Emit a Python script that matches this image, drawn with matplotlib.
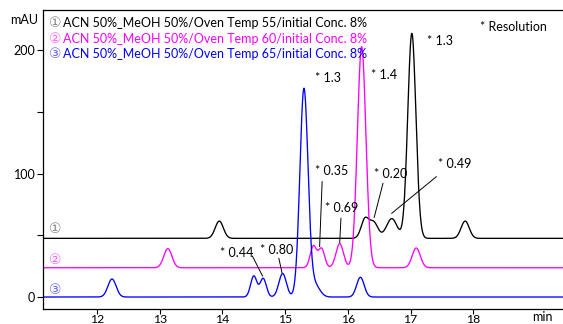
import numpy as np
import matplotlib
matplotlib.use("Agg")
import matplotlib.pyplot as plt

plt.rcParams['font.family'] = ['Lato', 'DejaVu Sans']

# ---- data (peak tables) ----
black_offset = 47.5
black_rt = [13.95, 16.27, 16.41, 16.70, 17.02, 17.87]
black_h = [14, 15, 13, 16, 166, 14]
black_sd = [0.065, 0.06, 0.07, 0.085, 0.065, 0.065]

mag_offset = 23.7
mag_rt = [13.13, 15.45, 15.58, 15.87, 16.22, 17.09]
mag_h = [15.5, 17.5, 15.5, 19.5, 179, 16]
mag_sd = [0.065, 0.05, 0.05, 0.06, 0.068, 0.065]

blue_offset = 0.0
blue_rt = [12.24, 14.50, 14.65, 14.96, 15.30, 15.47, 16.20]
blue_h = [14.6, 17, 15, 19, 168, 10, 16]
blue_sd = [0.065, 0.05, 0.05, 0.06, 0.065, 0.08, 0.06]

legend_labels = ["ACN 50%_MeOH 50%/Oven Temp 55/initial Conc. 8%",
                 "ACN 50%_MeOH 50%/Oven Temp 60/initial Conc. 8%",
                 "ACN 50%_MeOH 50%/Oven Temp 65/initial Conc. 8%"]
circ = ["\u2460", "\u2461", "\u2462"]

x_ticks = [12, 13, 14, 15, 16, 17, 18]
y_ticks = [0, 100, 200]
y_minor = [50, 150]

t = np.linspace(11.1, 19.5, 3000)


def trace(offset, rts, hs, sds):
    y = np.full_like(t, offset)
    for r, h, s in zip(rts, hs, sds):
        y += h * np.exp(-0.5 * ((t - r) / s) ** 2)
    return y


fig = plt.figure(figsize=(5.63, 3.24), dpi=100)
ax = fig.add_axes([43 / 563, 1 - 309 / 324, 1 - 43 / 563, (309 - 10) / 324])

ax.plot(t, trace(black_offset, black_rt, black_h, black_sd), color='black', lw=0.95)
ax.plot(t, trace(mag_offset, mag_rt, mag_h, mag_sd), color='#ff00ff', lw=0.95)
ax.plot(t, trace(blue_offset, blue_rt, blue_h, blue_sd), color='#0000ff', lw=0.95)

ax.set_xlim(11.14, 19.43)
ax.set_ylim(-9.7, 232.4)
ax.set_xticks(x_ticks)
ax.set_yticks(y_ticks)
ax.set_yticks(y_minor, minor=True)
ax.tick_params(axis='both', which='both', direction='out', length=4, width=0.8,
               labelsize=9, pad=1.5)
ax.tick_params(axis='x', length=3.5, pad=0.3, labelsize=8.8)
ax.spines['right'].set_visible(False)
for s in ['left', 'bottom', 'top']:
    ax.spines[s].set_linewidth(0.9)

fs = 9
# legend-like header lines
cols_main = ['black', '#ff00ff', '#0000ff']
cols_circ = ['#888888', '#ff66ff', '#6666ff']
ys_leg = [221.9, 208.9, 196.8]
for i in range(3):
    ax.text(11.24, ys_leg[i], circ[i], color=cols_circ[i], fontsize=fs + 1,
            va='center', ha='left', family=['DejaVu Sans'])
    ax.text(11.46, ys_leg[i], legend_labels[i], color=cols_main[i], fontsize=fs,
            va='center', ha='left')

# trace labels
for yy, i in zip([55, 30, 5.7], range(3)):
    ax.text(11.24, yy, circ[i], color=cols_circ[i], fontsize=fs + 1,
            va='center', ha='left', family=['DejaVu Sans'])

ax.text(18.11, 218.6, "* Resolution", fontsize=fs, va='center', ha='left')

# resolution labels
labels = [(15.48, 177.3, "* 1.3"), (16.37, 179.8, "* 1.4"), (17.26, 207.3, "* 1.3"),
          (15.48, 102.0, "* 0.35"), (15.64, 72.1, "* 0.69"), (16.42, 99.4, "* 0.20"),
          (17.43, 107.7, "* 0.49"), (13.96, 35.4, "* 0.44"), (14.60, 38.0, "* 0.80")]
for x, y, s in labels:
    ax.text(x, y, s, fontsize=fs, va='center', ha='left')

leaders = [((15.59, 93.4), (15.55, 40.9)),
           ((15.89, 63.7), (15.87, 44.0)),
           ((16.56, 92.0), (16.42, 64.5)),
           ((17.41, 97.4), (16.70, 67.8)),
           ((14.48, 33.0), (14.64, 17.0)),
           ((14.90, 31.3), (14.95, 19.7))]
for (x0, y0), (x1, y1) in leaders:
    ax.plot([x0, x1], [y0, y1], color='black', lw=0.7)

fig.text(24 / 563, 1 - 20 / 324, "mAU", fontsize=fs, ha='center', va='center')
fig.text(542 / 563, 1 - 317 / 324, "min", fontsize=fs, ha='center', va='center')

fig.savefig("out.png", dpi=100)
